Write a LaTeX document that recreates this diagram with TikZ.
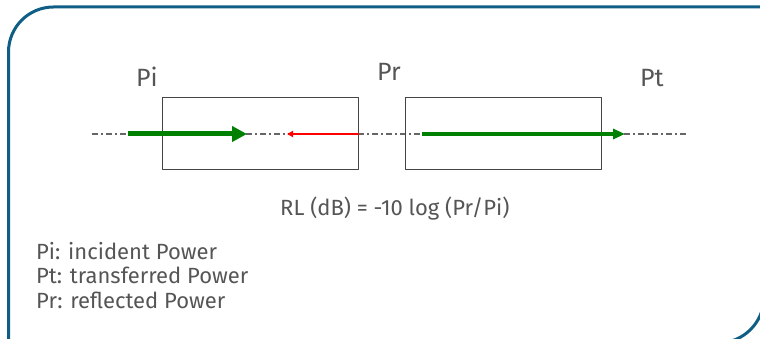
\documentclass[tikz,border=0pt]{standalone}
\usepackage{fontspec}
\setmainfont{Fira Sans}
\usepackage{xcolor}
\usetikzlibrary{arrows.meta}
\definecolor{framecol}{RGB}{16,94,133}
\definecolor{txtgray}{RGB}{85,85,85}
\definecolor{boxgray}{RGB}{68,68,68}
\definecolor{pgreen}{RGB}{0,128,0}
\tikzset{
  every picture/.style={line join=round, >=Stealth},
  frame line/.style={draw=framecol, line width=3pt},
  dev box/.style={draw=boxgray, line width=1pt, minimum width=196pt, minimum height=72pt, inner sep=0pt},
  axis line/.style={draw=black!60, line width=1.2pt, dash pattern=on 6pt off 3pt on 2pt off 3pt},
  lbl/.style={text=txtgray, font=\fontsize{25}{29}\selectfont, inner sep=0pt},
  legend/.style={text=txtgray, font=\fontsize{22}{25}\selectfont, inner sep=0pt},
}

\begin{document}
\begin{tikzpicture}[x=1pt,y=-1pt]
\useasboundingbox (0,0) rectangle (760,339);
% frame, cut by the page edge
\begin{scope}
\clip (0,0) rectangle (760,339);
\draw[frame line,rounded corners=45pt] (8.5,360) |- (800,7);
\draw[frame line,rounded corners=46pt] (650,343) -| (764,250);
\end{scope}

% line and the two boxes
\coordinate (axL) at (92,134);
\coordinate (axR) at (688,134);
\draw[axis line] (axL) -- (axR);
\node[dev box] (box1) at (260,134) {};
\node[dev box] (box2) at (503,134) {};

% power arrows
\coordinate (piS) at (128,134);
\coordinate (piE) at (247,134);
\coordinate (prE) at (287,134);
\coordinate (ptS) at (422,134);
\coordinate (ptE) at (625,134);
\draw[pgreen,line width=5pt,-{Triangle[length=15pt,width=15pt]}] (piS) -- (piE);
\draw[red,line width=2pt,-{Triangle[length=6pt,width=6pt]}] (box1.east) -- (prE);
\draw[pgreen,line width=3.5pt,-{Triangle[length=12pt,width=10pt]}] (ptS) -- (ptE);

% labels
\node[lbl,anchor=base west] (pi) at (136,87) {Pi};
\node[lbl,anchor=base west] (pr) at (377,81) {Pr};
\node[lbl,anchor=base west] (pt) at (640,87) {Pt};
\node[legend,anchor=base west] (rl) at (280,215) {RL (dB) = -10 log (Pr/Pi)};

% legend
\node[legend,anchor=base west] (leg1) at (36,259) {Pi: incident Power};
\node[legend,anchor=base west] (leg2) at (36,283.5) {Pt: transferred Power};
\node[legend,anchor=base west] (leg3) at (36,308) {Pr: reflected Power};
\end{tikzpicture}
\end{document}
